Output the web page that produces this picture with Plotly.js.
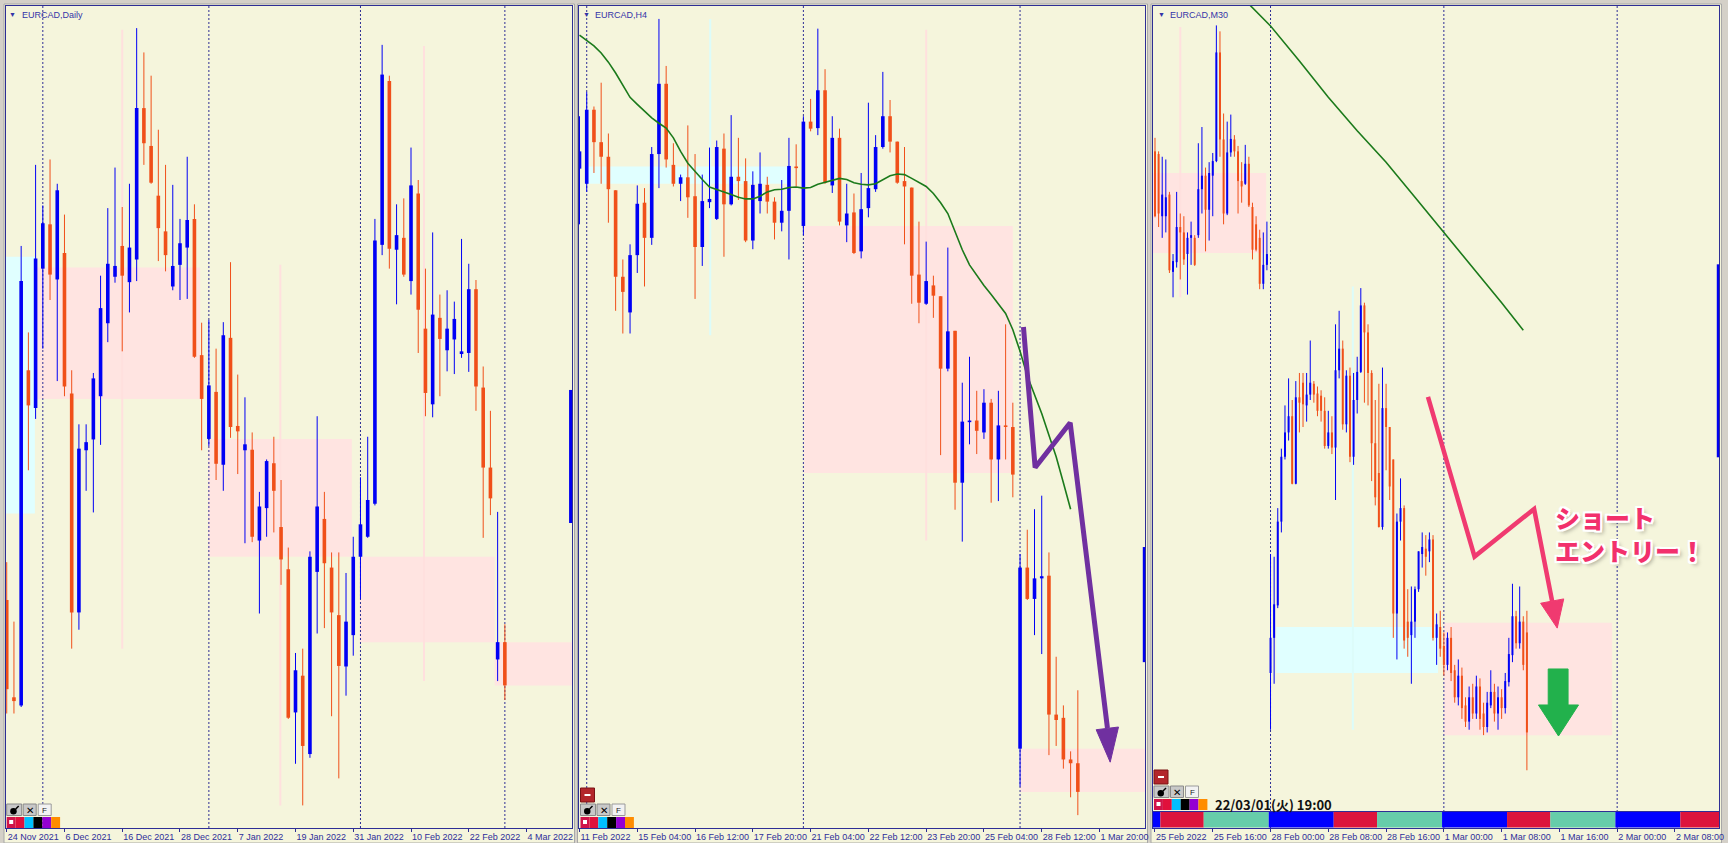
<!DOCTYPE html>
<html><head><meta charset="utf-8">
<script src="https://cdn.plot.ly/plotly-3.0.1.min.js"></script>
<style>html,body{margin:0;padding:0;background:#D4D0C8;overflow:hidden}</style>
</head><body><div id="chart" style="width:1728px;height:843px"></div>
<script>
// ===== Panel 1: EURCAD Daily =====
const dailyOpen = [1.41450,1.40550,1.40475,1.43575,1.43225,1.44515,1.44925,1.44415,1.44660,1.43360,
1.41335,1.42835,1.42935,1.43335,1.44010,1.44440,1.44725,1.44390,1.44600,1.46000,
1.45650,1.45190,1.44860,1.44350,1.44550,1.44710,1.44975,1.43715,1.42940,1.43375,
1.42700,1.43875,1.43060,1.42835,1.42840,1.42000,1.42300,1.42715,1.42125,1.41735,
1.40410,1.40750,1.40025,1.41710,1.42200,1.41750,1.41310,1.40835,1.41125,1.41850,
1.42035,1.42340,1.44735,1.46250,1.44690,1.44800,1.44400,1.45210,1.43960,1.43260,
1.44060,1.43760,1.43860,1.43725,1.43735,1.44325,1.43415,1.42675,1.40900,1.41060];
const dailyHigh = [1.41800,1.41250,1.44725,1.43925,1.45475,1.45100,1.45525,1.45300,1.45015,1.43575,
1.43075,1.43075,1.43550,1.44450,1.45075,1.45450,1.45085,1.45300,1.46740,1.46515,
1.46300,1.45800,1.45475,1.45290,1.44975,1.45550,1.45110,1.44015,1.44040,1.43775,
1.44020,1.44575,1.43535,1.43325,1.43000,1.42450,1.42750,1.42960,1.42560,1.41935,
1.40960,1.41000,1.41900,1.43150,1.42450,1.41890,1.41890,1.41700,1.42035,1.42585,
1.42960,1.44975,1.46585,1.46300,1.45110,1.45165,1.45635,1.45335,1.44515,1.44850,
1.44275,1.44315,1.44210,1.44790,1.44560,1.44410,1.43610,1.43200,1.42265,1.41225];
const dailyLow = [1.40400,1.40400,1.40460,1.42650,1.43125,1.43775,1.44225,1.43475,1.43335,1.41000,
1.41175,1.42460,1.42260,1.42885,1.43835,1.44385,1.43750,1.44110,1.44400,1.45475,
1.45300,1.44585,1.44490,1.44315,1.44225,1.44235,1.43690,1.42835,1.42875,1.42560,
1.42460,1.42950,1.42615,1.41975,1.41985,1.41325,1.42035,1.42075,1.41590,1.40350,
1.39935,1.39550,1.39990,1.41140,1.41190,1.40375,1.39800,1.40565,1.40935,1.41460,
1.42025,1.42325,1.44640,1.44515,1.44185,1.44440,1.44275,1.43735,1.43150,1.43140,
1.43335,1.43565,1.43540,1.43690,1.43560,1.43200,1.42025,1.42235,1.40700,1.40525];
const dailyClose = [1.40625,1.40515,1.44400,1.43250,1.44610,1.44935,1.44460,1.45240,1.43425,1.41335,
1.42850,1.42910,1.43500,1.44150,1.44560,1.44540,1.44450,1.44710,1.46000,1.45675,
1.45310,1.44890,1.44640,1.44540,1.44750,1.44965,1.43700,1.43310,1.43435,1.42710,
1.43900,1.43050,1.43010,1.42890,1.42035,1.42315,1.42735,1.42460,1.41825,1.40360,
1.40800,1.40100,1.41850,1.42315,1.41790,1.41335,1.40840,1.41250,1.41850,1.42150,
1.42375,1.44775,1.46310,1.44700,1.44825,1.44460,1.45285,1.44135,1.43365,1.44090,
1.43865,1.43960,1.44050,1.43750,1.44325,1.43425,1.42675,1.42390,1.41060,1.40660];
const dailyTickIdx = [0,8,16,24,32,40,48,56,64,72];
const dailyTickText = ['24 Nov 2021','6 Dec 2021','16 Dec 2021','28 Dec 2021','7 Jan 2022','19 Jan 2022','31 Jan 2022','10 Feb 2022','22 Feb 2022','4 Mar 2022'];
const dailySeparators = [5,28,49,69];
// zones: [xStart, xEnd, priceLow, priceHigh]
const dailyCyanZones = [[-0.3,3.9,1.42250,1.44625]];
const dailyPinkZones = [[3.9,26.8,1.43310,1.44525],[27.9,47.8,1.41850,1.42940],[48.9,67.6,1.41060,1.41850],[67.6,78.5,1.40660,1.41060]];
const dailyPinkLines = [[16,1.41000,1.46725],[37.9,1.39550,1.44550],[57.8,1.40700,1.46575]];
const dailyEdgeBar = [78.1,1.42162,1.43393];

// ===== Panel 2: EURCAD H4 =====
const h4Open = [1.45440,1.45300,1.45985,1.45685,1.45550,1.45240,1.44440,1.44110,1.44640,1.45125,
1.44800,1.45575,1.46225,1.45475,1.45300,1.45360,1.45185,1.44715,1.45130,1.44975,
1.45625,1.45110,1.45365,1.45325,1.44775,1.45140,1.45290,1.45135,1.44940,1.45050,
1.45460,1.44910,1.45875,1.45815,1.46165,1.45285,1.45725,1.44915,1.45035,1.44675,
1.45075,1.45250,1.45640,1.45925,1.45690,1.45325,1.45265,1.44460,1.44190,1.44360,
1.44260,1.43590,1.43940,1.42535,1.43095,1.43110,1.43000,1.43275,1.42750,1.43065,
1.43050,1.40075,1.41750,1.41460,1.41650,1.41675,1.40390,1.40360,1.39975,1.39940];
const h4High = [1.45925,1.46150,1.46015,1.46235,1.45765,1.45240,1.44600,1.44740,1.45285,1.45260,
1.45640,1.46825,1.46390,1.45675,1.45385,1.45840,1.45575,1.45385,1.45635,1.45700,
1.45765,1.45935,1.45725,1.45535,1.45415,1.45590,1.45365,1.45175,1.45335,1.45725,
1.45665,1.45925,1.46085,1.46735,1.46360,1.45925,1.45810,1.45300,1.45210,1.45400,
1.46050,1.45750,1.46335,1.46075,1.45690,1.45640,1.45265,1.44950,1.44765,1.44450,
1.44260,1.44710,1.43940,1.43460,1.43700,1.43385,1.43400,1.43310,1.43385,1.44000,
1.43275,1.41875,1.42100,1.42290,1.42415,1.41890,1.40925,1.40475,1.40050,1.40615];
const h4Low = [1.44925,1.45225,1.45400,1.45300,1.44940,1.44125,1.43915,1.43915,1.44475,1.44350,
1.44735,1.45260,1.45450,1.45275,1.45140,1.44985,1.44235,1.44540,1.45075,1.44965,
1.44625,1.45100,1.45150,1.44760,1.44695,1.45025,1.45025,1.44785,1.44860,1.44600,
1.45275,1.44825,1.45785,1.45750,1.45300,1.45215,1.44915,1.44760,1.44650,1.44610,
1.44990,1.45225,1.45625,1.45590,1.45300,1.44740,1.44190,1.44010,1.44180,1.44060,
1.42790,1.43565,1.42285,1.41990,1.42890,1.42800,1.42940,1.42350,1.42365,1.42750,
1.42400,1.39725,1.41450,1.41125,1.40950,1.40015,1.40100,1.39890,1.39625,1.39460];
const h4Close = [1.45600,1.45985,1.45685,1.45550,1.45250,1.44440,1.44300,1.44640,1.45115,1.44800,
1.45575,1.46225,1.45525,1.45300,1.45360,1.45175,1.44715,1.45140,1.45160,1.45640,
1.45110,1.45365,1.45325,1.44775,1.45290,1.45300,1.45135,1.44940,1.45050,1.45465,
1.45445,1.45875,1.45810,1.46165,1.45310,1.45725,1.44950,1.45025,1.44660,1.45065,
1.45260,1.45640,1.45925,1.45690,1.45310,1.45275,1.44450,1.44200,1.44400,1.44265,
1.43590,1.43935,1.42535,1.43100,1.43110,1.43015,1.43275,1.42750,1.43065,1.43050,
1.42610,1.41750,1.41460,1.41650,1.41670,1.40390,1.40340,1.39975,1.39940,1.39675];
const h4MA = [1.46675,1.46625,1.46575,1.46510,1.46425,1.46325,1.46210,1.46100,1.46035,1.45975,
1.45910,1.45860,1.45815,1.45725,1.45600,1.45490,1.45410,1.45340,1.45270,1.45250,
1.45225,1.45200,1.45175,1.45160,1.45160,1.45185,1.45225,1.45245,1.45250,1.45265,
1.45270,1.45260,1.45265,1.45295,1.45315,1.45335,1.45350,1.45340,1.45310,1.45295,
1.45290,1.45300,1.45335,1.45375,1.45390,1.45385,1.45350,1.45310,1.45275,1.45210,
1.45125,1.45025,1.44850,1.44690,1.44550,1.44450,1.44360,1.44275,1.44190,1.44100,
1.43950,1.43750,1.43525,1.43350,1.43175,1.42975,1.42775,1.42535,1.42290];
const h4TickIdx = [0,8,16,24,32,40,48,56,64,72];
const h4TickText = ['11 Feb 2022','15 Feb 04:00','16 Feb 12:00','17 Feb 20:00','21 Feb 04:00','22 Feb 12:00','23 Feb 20:00','25 Feb 04:00','28 Feb 12:00','1 Mar 20:00'];
const h4Separators = [1,31,61];
const h4CyanZones = [[1.2,28.9,1.45300,1.45460]];
const h4PinkZones = [[31.1,60.0,1.42625,1.44910],[61.0,78.5,1.39675,1.40075]];
const h4CyanLines = [[18.1,1.43900,1.46825]];
const h4PinkLines = [[48.0,1.42000,1.46725]];
const h4EdgeBar = [78.2,1.40875,1.41940];
const h4ArrowX = [61.47,63.09,67.94,73.10];
const h4ArrowY = [1.43975,1.42675,1.43090,1.40265];
const h4ArrowHeadX = [71.54,74.63,73.48,71.54];
const h4ArrowHeadY = [1.40250,1.40275,1.39950,1.40250];

// ===== Panel 3: EURCAD M30 =====
const m30Open = [1.45600,1.45575,1.45000,1.45000,1.45200,1.44485,1.44575,1.44900,1.44850,1.44650,
1.44800,1.44800,1.44825,1.45250,1.45375,1.45060,1.45375,1.45510,1.46515,1.45710,
1.45025,1.45590,1.45710,1.45600,1.45325,1.45300,1.45485,1.45085,1.44925,1.44800,
1.44375,1.44550,
1.40775,1.41100,1.41400,1.42175,1.42775,1.43000,1.43150,1.42525,
1.43325,1.43460,1.43250,1.43350,1.43450,1.43360,1.43340,1.43200,1.42875,1.43000,
1.42860,1.43575,1.43775,1.43075,1.43525,1.42775,1.43300,1.43560,1.44175,1.43925,
1.43550,1.42900,1.42625,1.42125,1.43225,1.43050,1.42750,1.41325,1.42175,1.42300,
1.41250,1.41125,1.41250,1.41550,1.41875,1.41925,1.41900,1.42010,1.41100,1.41200,
1.41025,1.40850,1.41100,1.40800,1.40550,1.40750,1.40475,1.40325,1.40550,1.40400,
1.40650,1.40400,1.40275,1.40475,1.40600,1.40400,1.40550,1.40450,1.40690,1.40940,
1.41300,1.41050,1.41250,1.41150];
const m30High = [1.45725,1.45600,1.45550,1.45525,1.45225,1.44650,1.45225,1.45025,1.45000,1.44850,
1.44950,1.44825,1.45675,1.45825,1.45450,1.45500,1.45585,1.46765,1.46710,1.45950,
1.45875,1.45940,1.45750,1.45650,1.45500,1.45660,1.45550,1.45125,1.45000,1.44875,
1.44850,1.44950,
1.41875,1.41850,1.42300,1.42850,1.43250,1.43500,1.43300,1.43475,
1.43550,1.43550,1.43550,1.43850,1.43475,1.43425,1.43390,1.43325,1.43200,1.43150,
1.44000,1.44125,1.43850,1.43575,1.43600,1.43550,1.43700,1.44335,1.44200,1.44000,
1.43575,1.43300,1.43450,1.43600,1.43450,1.43050,1.42750,1.42250,1.42575,1.42325,
1.41550,1.41575,1.41575,1.41900,1.42075,1.42050,1.42075,1.42050,1.41325,1.41350,
1.41150,1.41150,1.41200,1.40850,1.40900,1.40825,1.40550,1.40650,1.40675,1.40750,
1.40725,1.40500,1.40600,1.40800,1.40675,1.40650,1.40625,1.40775,1.41100,1.41600,
1.41350,1.41575,1.41300,1.41350];
const m30Low = [1.44990,1.44900,1.44800,1.44850,1.44475,1.44250,1.44525,1.44415,1.44550,1.44275,
1.44550,1.44540,1.44800,1.45025,1.44675,1.44775,1.45000,1.45500,1.45550,1.44925,
1.45010,1.45550,1.45550,1.45025,1.45125,1.45290,1.45085,1.44600,1.44675,1.44325,
1.44325,1.44500,
1.40250,1.40675,1.41375,1.42075,1.42750,1.42925,1.42520,1.42520,
1.43000,1.43050,1.43100,1.43300,1.43275,1.43150,1.43100,1.42850,1.42850,1.42800,
1.42375,1.43500,1.43025,1.43000,1.42725,1.42700,1.43175,1.43550,1.43275,1.43250,
1.42550,1.42325,1.42120,1.42100,1.42650,1.42375,1.41100,1.40900,1.42000,1.41000,
1.40925,1.40675,1.41100,1.41525,1.41750,1.41675,1.41800,1.41075,1.40850,1.40925,
1.40750,1.40800,1.40700,1.40500,1.40475,1.40350,1.40275,1.40250,1.40350,1.40350,
1.40250,1.40200,1.40225,1.40450,1.40325,1.40250,1.40350,1.40400,1.40650,1.40875,
1.41000,1.41000,1.40800,1.39875];
const m30Close = [1.45000,1.45025,1.45200,1.45175,1.44500,1.44585,1.44900,1.44850,1.44600,1.44800,
1.44825,1.44550,1.45250,1.45375,1.45060,1.45400,1.45510,1.46515,1.45710,1.45025,
1.45590,1.45715,1.45600,1.45325,1.45275,1.45485,1.45100,1.44690,1.44690,1.44375,
1.44550,1.44650,
1.41100,1.41410,1.42175,1.42775,1.43000,1.43150,1.42525,1.43325,
1.43275,1.43260,1.43350,1.43460,1.43350,1.43200,1.43200,1.42875,1.43000,1.42860,
1.43575,1.43775,1.43075,1.43525,1.42775,1.43300,1.43560,1.44175,1.43925,1.43550,
1.42900,1.42400,1.42125,1.43225,1.43050,1.42500,1.41325,1.42175,1.42300,1.41075,
1.41100,1.41250,1.41550,1.41900,1.41940,1.41850,1.42010,1.41100,1.41225,1.41000,
1.40850,1.41100,1.40775,1.40550,1.40750,1.40450,1.40325,1.40550,1.40400,1.40650,
1.40350,1.40275,1.40500,1.40600,1.40400,1.40550,1.40450,1.40700,1.40950,1.41300,
1.41050,1.41250,1.40850,1.40225];
const m30MAIdx = [24,32,40,48,56,64,72,80,88,96,102];
const m30MA = [1.47030,1.46760,1.46435,1.46100,1.45790,1.45500,1.45175,1.44850,1.44525,1.44200,1.43945];
const m30TickIdx = [0,16,32,48,64,80,96,112,128,144];
const m30TickText = ['25 Feb 2022','25 Feb 16:00','28 Feb 00:00','28 Feb 08:00','28 Feb 16:00','1 Mar 00:00','1 Mar 08:00','1 Mar 16:00','2 Mar 00:00','2 Mar 08:00'];
const m30Separators = [32,80,128];
const m30CyanZones = [[33.6,78.4,1.40775,1.41200]];
const m30PinkZones = [[-0.8,30.8,1.44660,1.45400],[80.0,126.6,1.40200,1.41240]];
const m30PinkLines = [[7.0,1.44250,1.46750]];
const m30CyanLines = [[54.8,1.40250,1.44350]];
const m30EdgeBar = [156.0,1.42770,1.44555];
const sessionEdges = [-0.8,1.5,13.5,31.5,49.5,61.5,79.5,97.5,109.5,127.5,145.5,156.5];
const sessionNames = ['asia','europe','newyork','asia','europe','newyork','asia','europe','newyork','asia','europe'];
const m30ArrowX = [75.6,88.5,105.0,110.0];
const m30ArrowY = [1.43328,1.41852,1.42292,1.41436];
const m30ArrowHeadX = [106.8,113.2,111.4,106.8];
const m30ArrowHeadY = [1.41420,1.41460,1.41190,1.41420];
const entryArrowX = [108.9,114.4,114.4,117.3,111.75,106.2,108.9,108.9];
const entryArrowY = [1.40812,1.40812,1.40479,1.40479,1.40192,1.40479,1.40479,1.40812];
const entryLabel = {x:110.3, y:1.42400, text:'ショート<br>エントリー！'};
const crosshairTime = '22/03/01(火) 19:00';

// ===== styling / drawing =====
const W = 1728, H = 843;
const px = x => x / W, py = y => 1 - y / H;
const BULL = '#0000F5', BEAR = '#F0501A', NAVY = '#2E2E95', BEIGE = '#F5F5DC';
const PINK = '#FFE4E1', CYAN = '#E0FFFF';
const sessionColor = {asia:'#0000FF', europe:'#DC143C', newyork:'#66CDAA'};

const traces = [];
const shapes = [];
const annotations = [];

function addCandles(o,h,l,c,xa,ya,bw){
  const n = o.length, xs=[], len=[], base=[], col=[];
  const ux=[],uy=[],dx=[],dy=[];
  for(let i=0;i<n;i++){
    const up = c[i] >= o[i];
    let d = c[i]-o[i];
    if(Math.abs(d) < 0.00009) d = up ? 0.00009 : -0.00009;
    xs.push(i); base.push(o[i]); len.push(d); col.push(up?BULL:BEAR);
    if(up){ux.push(i,i,null);uy.push(h[i],l[i],null);} else {dx.push(i,i,null);dy.push(h[i],l[i],null);}
  }
  traces.push({type:'scatter',mode:'lines',x:ux,y:uy,xaxis:xa,yaxis:ya,line:{color:BULL,width:1},hoverinfo:'skip'});
  traces.push({type:'scatter',mode:'lines',x:dx,y:dy,xaxis:xa,yaxis:ya,line:{color:BEAR,width:1},hoverinfo:'skip'});
  traces.push({type:'bar',x:xs,y:len,base:base,width:bw,xaxis:xa,yaxis:ya,marker:{color:col,line:{width:0}},hoverinfo:'skip'});
}
function zoneShapes(list,xa,ya,color){
  list.forEach(z=>shapes.push({type:'rect',xref:xa,yref:ya,x0:z[0],x1:z[1],y0:z[2],y1:z[3],fillcolor:color,line:{width:0},layer:'below'}));
}
function vLines(list,xa,ya,color){
  list.forEach(v=>shapes.push({type:'line',xref:xa,yref:ya,x0:v[0],x1:v[0],y0:v[1],y1:v[2],line:{color:color,width:2},layer:'below'}));
}
function separators(list,xa,ya,range){
  list.forEach(s=>shapes.push({type:'line',xref:xa,yref:ya,x0:s,x1:s,y0:range[0],y1:range[1],line:{color:NAVY,width:1,dash:'2px,2px'},layer:'below'}));
}
function edgeBar(b,xa,ya){
  traces.push({type:'scatter',mode:'lines',x:[b[0],b[0]],y:[b[1],b[2]],xaxis:xa,yaxis:ya,line:{color:'#0000F0',width:3},hoverinfo:'skip'});
}
function prect(x0,y0,x1,y1,fill,lc,layer){
  shapes.push({type:'rect',xref:'paper',yref:'paper',x0:px(x0),x1:px(x1),y0:py(y1),y1:py(y0),fillcolor:fill,line:{color:lc||fill,width:lc?1:0},layer:layer||'above'});
}
function ptext(x,y,t,size,color,opts){
  annotations.push(Object.assign({xref:'paper',yref:'paper',x:px(x),y:py(y),text:t,showarrow:false,xanchor:'center',yanchor:'middle',
    font:{family:'Liberation Sans, DejaVu Sans',size:size,color:color}},opts||{}));
}
function toolbar(x0,yMinus,yBtn,ySq){
  if(yMinus!==null){
    prect(x0,yMinus,x0+14,yMinus+14,'#B3262B','#7A1215');
    shapes.push({type:'line',xref:'paper',yref:'paper',x0:px(x0+4),x1:px(x0+10),y0:py(yMinus+7),y1:py(yMinus+7),line:{color:'#FFFFFF',width:2},layer:'above'});
  }
  prect(x0,yBtn,x0+15,yBtn+11.5,'#C8C8C8','#8A8A8A');
  shapes.push({type:'circle',xref:'paper',yref:'paper',x0:px(x0+3.5),x1:px(x0+10),y0:py(yBtn+10.5),y1:py(yBtn+4),fillcolor:'#000',line:{width:0},layer:'above'});
  shapes.push({type:'line',xref:'paper',yref:'paper',x0:px(x0+9),x1:px(x0+12),y0:py(yBtn+5),y1:py(yBtn+2),line:{color:'#000',width:1.5},layer:'above'});
  prect(x0+16.5,yBtn,x0+29.5,yBtn+11.5,'#C8C8C8','#8A8A8A');
  ptext(x0+23,yBtn+6,'<b>✕</b>',10,'#000');
  prect(x0+31.5,yBtn,x0+44.5,yBtn+11.5,'#F2F2F2','#9A9A9A');
  ptext(x0+38,yBtn+6,'F',8,'#222');
  const cols=['#D0144A','#E0103C','#00BFFF','#000000','#9400D3','#FF8C00'];
  cols.forEach((c,k)=>prect(x0+k*8.9,ySq,x0+(k+1)*8.9,ySq+11,c));
  prect(x0+2.5,ySq+3,x0+6.5,ySq+7,'#FFFFFF');
}

// panel backgrounds (gray window frame around)
prect(4,4,574.5,843,BEIGE,'#A8A8A8','below');
prect(577.5,4,1147.5,843,BEIGE,'#A8A8A8','below');
prect(1151,4,1721.5,843,BEIGE,'#A8A8A8','below');

const yR = [1.39341,1.469445];

// Panel 1
zoneShapes(dailyCyanZones,'x','y',CYAN);
zoneShapes(dailyPinkZones,'x','y',PINK);
vLines(dailyPinkLines,'x','y','#FFE0DE');
separators(dailySeparators,'x','y',yR);
addCandles(dailyOpen,dailyHigh,dailyLow,dailyClose,'x','y',0.5);
edgeBar(dailyEdgeBar,'x','y');

// Panel 2
zoneShapes(h4CyanZones,'x2','y2',CYAN);
zoneShapes(h4PinkZones,'x2','y2',PINK);
vLines(h4CyanLines,'x2','y2','#DCFCFA');
vLines(h4PinkLines,'x2','y2','#FFE0DE');
separators(h4Separators,'x2','y2',yR);
addCandles(h4Open,h4High,h4Low,h4Close,'x2','y2',0.5);
traces.push({type:'scatter',mode:'lines',x:h4MA.map((v,i)=>i),y:h4MA,xaxis:'x2',yaxis:'y2',line:{color:'#1B7A1B',width:1.6},hoverinfo:'skip'});
edgeBar(h4EdgeBar,'x2','y2');
traces.push({type:'scatter',mode:'lines',x:h4ArrowX,y:h4ArrowY,xaxis:'x2',yaxis:'y2',line:{color:'#7030A0',width:5},hoverinfo:'skip'});
traces.push({type:'scatter',mode:'lines',x:h4ArrowHeadX,y:h4ArrowHeadY,xaxis:'x2',yaxis:'y2',fill:'toself',fillcolor:'#7030A0',line:{color:'#7030A0',width:1},hoverinfo:'skip'});

// Panel 3
zoneShapes(m30PinkZones,'x3','y3',PINK);
zoneShapes(m30CyanZones,'x3','y3',CYAN);
vLines(m30PinkLines,'x3','y3','#FFE0DE');
vLines(m30CyanLines,'x3','y3','#DCFCFA');
separators(m30Separators,'x3','y3',yR);
addCandles(m30Open,m30High,m30Low,m30Close,'x3','y3',0.55);
traces.push({type:'scatter',mode:'lines',x:m30MAIdx,y:m30MA,xaxis:'x3',yaxis:'y3',line:{color:'#1B7A1B',width:1.6},hoverinfo:'skip'});
edgeBar(m30EdgeBar,'x3','y3');
traces.push({type:'scatter',mode:'lines',x:m30ArrowX,y:m30ArrowY,xaxis:'x3',yaxis:'y3',line:{color:'#F03A70',width:4.5},hoverinfo:'skip'});
traces.push({type:'scatter',mode:'lines',x:m30ArrowHeadX,y:m30ArrowHeadY,xaxis:'x3',yaxis:'y3',fill:'toself',fillcolor:'#F03A70',line:{color:'#F03A70',width:1},hoverinfo:'skip'});
traces.push({type:'scatter',mode:'lines',x:entryArrowX,y:entryArrowY,xaxis:'x3',yaxis:'y3',fill:'toself',fillcolor:'#22B14C',line:{color:'#22B14C',width:1},hoverinfo:'skip'});
annotations.push({xref:'x3',yref:'y3',x:entryLabel.x,y:entryLabel.y,text:entryLabel.text,showarrow:false,xanchor:'left',yanchor:'top',align:'left',
  font:{family:'Noto Sans CJK JP',size:25,color:'#F2306C',weight:900,
  shadow:'2px 2px 0 #fff,-2px -2px 0 #fff,2px -2px 0 #fff,-2px 2px 0 #fff,0 2px 0 #fff,2px 0 0 #fff,0 -2px 0 #fff,-2px 0 0 #fff,3px 3px 4px rgba(0,0,0,0.35)'}});
// session strip
for(let k=0;k<sessionNames.length;k++){
  shapes.push({type:'rect',xref:'x3',yref:'paper',x0:sessionEdges[k],x1:sessionEdges[k+1],y0:py(827.5),y1:py(812),fillcolor:sessionColor[sessionNames[k]],line:{width:0},layer:'above'});
}
shapes.push({type:'line',xref:'paper',yref:'paper',x0:px(1153),x1:px(1719),y0:py(811.5),y1:py(811.5),line:{color:NAVY,width:1},layer:'above'});

// toolbars
toolbar(6.7,null,804,817);
toolbar(580.5,788,804,817);
toolbar(1154,770,786,799);
ptext(1213,804,'<b>'+crosshairTime+'</b>',13,'#111',{xanchor:'left',font:{family:'Noto Sans CJK JP',size:13,color:'#111'}});

// titles
const titleC = '#3434A8';
[[9,20,'EURCAD,Daily'],[583,593,'EURCAD,H4'],[1158,1168,'EURCAD,M30']].forEach(t=>{
  ptext(t[0]+3,14.5,'▼',7,titleC);
  ptext(t[1],14.5,t[2],9,titleC,{xanchor:'left'});
});

function xAx(d0,d1,range,vals,text,anchor){
  return {domain:[px(d0),px(d1)],range:range,anchor:anchor,tickmode:'array',tickvals:vals,ticktext:text,
    showgrid:false,zeroline:false,showline:true,mirror:true,linecolor:NAVY,linewidth:1,
    ticks:'outside',ticklen:3,tickcolor:NAVY,tickangle:0,ticklabelposition:'outside right',ticklabeloverflow:'allow',
    tickfont:{family:'Liberation Sans, DejaVu Sans',size:9,color:'#2E2E9A'},fixedrange:true,automargin:false};
}
function yAx(range,anchor){
  return {domain:[py(828),py(6)],range:range,anchor:anchor,showticklabels:false,ticks:'',showgrid:false,zeroline:false,
    showline:true,mirror:true,linecolor:NAVY,linewidth:1,fixedrange:true};
}

const layout = {
  width:W,height:H,margin:{l:0,r:0,t:0,b:0},paper_bgcolor:'#D4D0C8',plot_bgcolor:BEIGE,
  showlegend:false,barmode:'overlay',hovermode:false,
  xaxis:xAx(6,572,[-0.1,78.3],dailyTickIdx,dailyTickText,'y'),
  yaxis:yAx(yR,'x'),
  xaxis2:xAx(579,1145,[-0.07,78.3],h4TickIdx,h4TickText,'y2'),
  yaxis2:yAx(yR,'x2'),
  xaxis3:xAx(1153,1719,[-0.55,156.2],m30TickIdx,m30TickText,'y3'),
  yaxis3:yAx(yR,'x3'),
  shapes:shapes,annotations:annotations
};
Plotly.newPlot('chart',traces,layout,{displayModeBar:false,staticPlot:true});
</script></body></html>
